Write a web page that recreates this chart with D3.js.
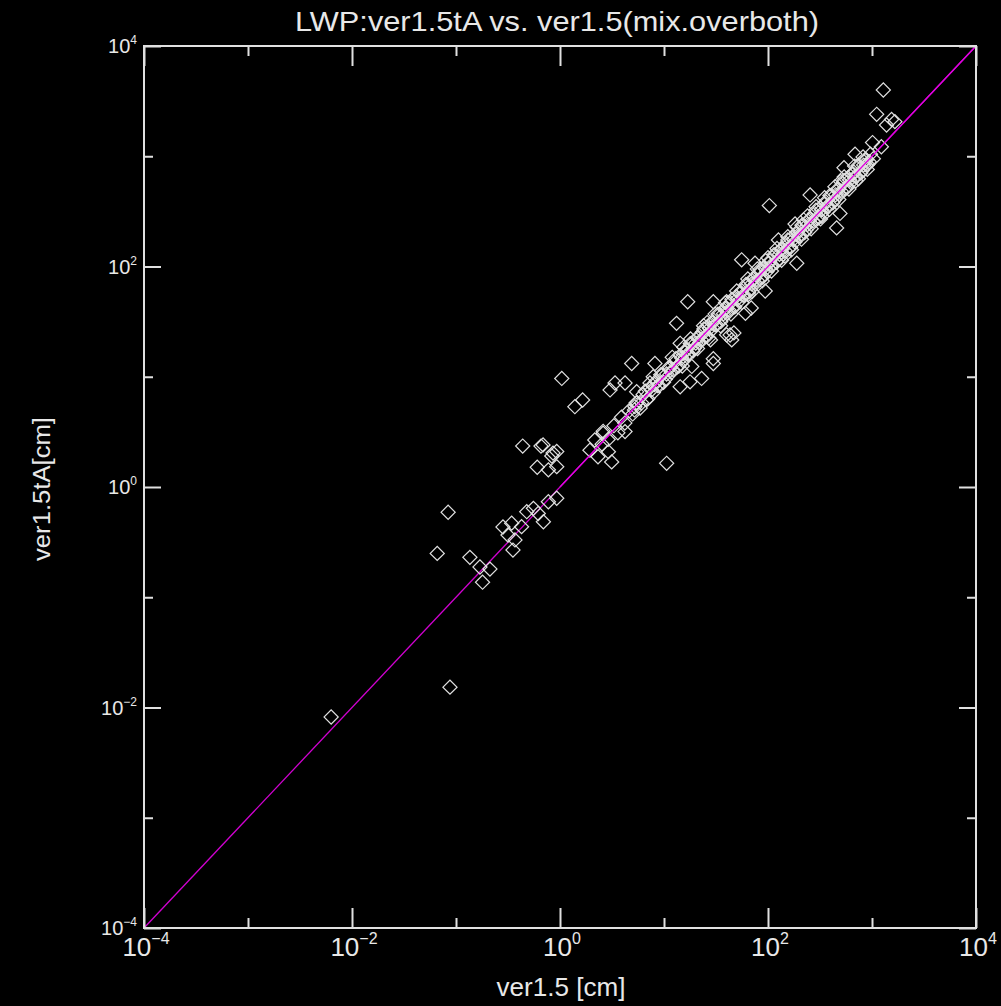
<!DOCTYPE html>
<html>
  <head>
    <meta charset="utf-8">
    <title>LWP scatter</title>
    <script type="text/javascript" src="https://cdn.jsdelivr.net/npm/d3@7"></script>
    <style type='text/css'>
      body { margin: 0; background: black; }
      text { fill: #e8e8e8; font-family: 'Liberation Sans', sans-serif; }
    </style>
  </head>
  <body>
    <script type="text/javascript">
      var w = 1001;
      var h = 1006;
      var plotLeft = 144, plotRight = 976, plotTop = 46, plotBottom = 928;

      var title = 'LWP:ver1.5tA vs. ver1.5(mix.overboth)';
      var xTitle = 'ver1.5 [cm]';
      var yTitle = 'ver1.5tA[cm]';
      var majorTicks = [1e-4, 1e-2, 1e0, 1e2, 1e4];
      var minorTicks = [1e-3, 1e-1, 1e1, 1e3];
      var tickExponents = ['-4', '-2', '0', '2', '4'];

      // scattered points away from the 1:1 band
      var xOut = [0.0063, 0.0875, 0.066, 0.084, 0.136, 0.17, 0.18, 0.212, 0.283, 0.343, 0.316, 0.353, 0.369,
                  0.427, 0.479, 0.555, 0.618, 0.692, 0.773, 0.93, 0.438, 0.656, 0.834, 0.93, 0.604, 0.773, 0.93,
                  1.04, 1.39, 1.65, 0.687, 0.857, 3.03, 3.38, 4.22, 4.89, 5.46, 5.25, 8.18, 7.88, 7.33, 13.2,
                  16.9, 14.3, 18.5, 29.8, 23, 17.8, 14.3, 10.6, 2.6, 2.16, 4.22, 29.8, 43.2, 44.8, 60.7, 28,
                  1285, 1109, 1542, 1380, 1660, 1012, 1230, 687, 538, 880, 254, 103, 492, 457, 182, 126, 55.8,
                  75, 189, 94, 29.8, 69, 40, 47, 2.92, 3.14, 2.32, 1.94, 2.54];
      var yOut = [0.0082, 0.0153, 0.25, 0.59, 0.23, 0.188, 0.137, 0.18, 0.434, 0.47, 0.367, 0.268, 0.331,
                  0.437, 0.597, 0.64, 0.575, 0.484, 0.735, 0.79, 2.35, 2.35, 1.91, 2.1, 1.51, 1.43, 1.53,
                  9.66, 5.35, 6.15, 2.41, 2.03, 7.59, 8.77, 8.77, 13.2, 7.31, 5.35, 13.2, 10, 8.77, 30.5,
                  47.9, 20.1, 12.4, 13.2, 9.66, 9.0, 8.1, 1.64, 3.07, 2.67, 3.18, 47.9, 23.9, 21.6, 37.6, 21.6,
                  3990, 2400, 2160, 1920, 2060, 1330, 1220, 1045, 787, 830, 446, 357, 303, 224, 243, 174, 115,
                  107, 107, 60, 14.6, 42, 24, 25, 2.09, 1.69, 1.88, 2.16, 2.44];

      // dense band along the 1:1 line
      var xBand = [2.6, 2.9, 3.3, 3.6, 3.9, 4.2, 4.6, 5.0, 5.2, 5.4, 5.9, 6.3, 6.8, 7.3, 7.9, 8.4, 9.0, 9.6,
                   10.3, 11, 11.8, 12.6, 13.4, 14.3, 15.2, 16.2, 17.3, 18.4, 19.6, 20.8, 22.1, 23.5, 25, 26.6,
                   28.3, 30.1, 32, 34, 36.2, 38.5, 41, 43.6, 46.4, 49.4, 52.5, 55.9, 59.5, 63.3, 67.3, 71.6,
                   76.2, 81, 86.2, 91.7, 97.6, 104, 110, 117, 125, 133, 141, 150, 160, 170, 181, 193, 205, 218,
                   232, 247, 263, 280, 298, 317, 337, 358, 381, 406, 432, 459, 489, 520, 553, 589, 626, 667,
                   710, 755, 804, 855, 910, 968, 1030,
                   12, 15, 18, 21, 24, 27, 31, 35, 39, 44, 50, 56, 64, 70, 79, 88, 100, 108, 122, 135, 155, 168,
                   190, 210, 240, 260, 290, 320, 350, 390, 440, 480, 540, 600, 680, 740, 820, 900, 15.5, 26,
                   40, 65, 95, 145, 220, 330, 500, 700];
      var yBand = [3.2, 2.7, 3.6, 3.1, 4.3, 3.8, 4.9, 4.6, 5.0, 5.8, 5.2, 6.9, 6.2, 7.9, 7.2, 9.1, 8.3, 10.4,
                   9.5, 12, 10.9, 13.5, 12.3, 15.6, 14.0, 17.5, 16.0, 19.8, 18.1, 22.6, 20.5, 25.4, 23.2, 28.7,
                   26.1, 32.5, 29.6, 36.8, 33.5, 41.6, 37.8, 47, 42.8, 53.4, 48.4, 60.3, 54.8, 68.4, 62, 77.3,
                   70.2, 87.5, 79.4, 99, 90, 112, 102, 127, 115, 143, 130, 162, 147, 184, 167, 208, 189, 235,
                   214, 266, 242, 302, 274, 342, 311, 387, 352, 438, 398, 496, 450, 562, 510, 636, 577, 720,
                   654, 815, 741, 923, 840, 1045, 950,
                   15, 12.5, 22, 18, 29, 22.5, 37, 29, 47, 37, 60, 47, 77, 59, 95, 74, 120, 91, 146, 114, 186, 142,
                   228, 177, 288, 220, 348, 270, 420, 330, 528, 405, 648, 505, 815, 625, 985, 760, 18.5, 31,
                   48, 56, 113, 125, 265, 285, 590, 600];

      // more band points (fills the solid white strip)
      var xBand2 = [5.5, 6.1, 6.6, 7.0, 7.6, 8.1, 8.7, 9.3, 9.9, 10.6, 11.4, 12.2, 13.0, 13.9, 14.8,
                    15.8, 16.8, 17.9, 19.0, 20.2, 21.5, 22.8, 24.2, 25.8, 27.4, 29.2, 31, 33, 35.1, 37.3,
                    39.7, 42.3, 45, 47.9, 51, 54.2, 57.7, 61.4, 65.3, 69.5, 74, 78.7, 83.8, 89.2, 94.9,
                    101, 107, 114, 121, 129, 137, 146, 155, 165, 176, 187, 199, 212, 225, 240,
                    255, 272, 289, 308, 327, 348, 371, 394, 420, 447, 475, 506, 538, 573, 610,
                    649, 690, 734, 781, 831, 884, 940];
      var yBand2 = [5.8, 5.8, 7.4, 6.3, 7.6, 8.5, 8.3, 10.4, 8.9, 10.6, 12.0, 11.6, 14.6, 12.5, 14.8,
                    16.6, 16.0, 20.0, 17.1, 20.2, 22.6, 21.7, 27.1, 23.2, 27.4, 30.7, 29.5, 37, 31.6, 37.3,
                    41.7, 40.2, 50.4, 43.1, 51, 56.9, 54.8, 68.8, 58.8, 69.5, 77.7, 74.8, 93.9, 80.3, 94.9,
                    106, 102, 128, 109, 129, 144, 139, 174, 149, 176, 196, 189, 237, 203, 240,
                    268, 258, 324, 277, 327, 365, 352, 441, 378, 447, 499, 481, 603, 516, 610,
                    681, 656, 822, 703, 831, 928, 893];

      var xAll = xOut.concat(xBand, xBand2);
      var yAll = yOut.concat(yBand, yBand2);
      var points = xAll.map(function(d, i) { return {x: d, y: yAll[i]}; });

      var svg = d3.select('body')
                  .append('svg')
                  .attr('width', w)
                  .attr('height', h)
                  .style('background', 'black');

      var x = d3.scaleLog().domain([1e-4, 1e4]).range([plotLeft, plotRight]);
      var y = d3.scaleLog().domain([1e-4, 1e4]).range([plotBottom, plotTop]);

      // 1:1 line
      svg.append('line')
        .attr('x1', x(1e-4)).attr('y1', y(1e-4))
        .attr('x2', x(1e4)).attr('y2', y(1e4))
        .attr('stroke', '#d000d0')
        .attr('stroke-width', 1.3);

      // diamonds
      var diamond = d3.symbol().type(d3.symbolSquare).size(100);
      svg.selectAll('path.pt')
        .data(points)
        .enter()
        .append('path')
        .attr('class', 'pt')
        .attr('d', diamond)
        .attr('transform', function(d) { return 'translate(' + x(d.x) + ',' + y(d.y) + ') rotate(45)'; })
        .attr('fill', 'none')
        .attr('stroke', '#e0e0e0')
        .attr('stroke-width', 1.2);

      // magenta line drawn again on top, as in the reference it shows through the band
      svg.append('line')
        .attr('x1', x(1)).attr('y1', y(1))
        .attr('x2', x(1e4)).attr('y2', y(1e4))
        .attr('stroke', '#e000e0')
        .attr('stroke-width', 1.3);

      // frame
      svg.append('rect')
        .attr('x', plotLeft).attr('y', plotTop)
        .attr('width', plotRight - plotLeft).attr('height', plotBottom - plotTop)
        .attr('fill', 'none')
        .attr('stroke', '#e0e0e0')
        .attr('stroke-width', 2);

      function drawTicks(g) {
        g.select('.domain').remove();
        g.selectAll('line').attr('stroke', '#e0e0e0').attr('stroke-width', 2);
        g.selectAll('text').remove();
      }

      // ticks on all four sides, pointing inward
      svg.append('g').attr('transform', 'translate(0,' + plotBottom + ')')
        .call(d3.axisBottom(x).tickValues(majorTicks).tickSize(-20)).call(drawTicks);
      svg.append('g').attr('transform', 'translate(0,' + plotBottom + ')')
        .call(d3.axisBottom(x).tickValues(minorTicks).tickSize(-10)).call(drawTicks);
      svg.append('g').attr('transform', 'translate(0,' + plotTop + ')')
        .call(d3.axisTop(x).tickValues(majorTicks).tickSize(-20)).call(drawTicks);
      svg.append('g').attr('transform', 'translate(0,' + plotTop + ')')
        .call(d3.axisTop(x).tickValues(minorTicks).tickSize(-10)).call(drawTicks);
      svg.append('g').attr('transform', 'translate(' + plotLeft + ',0)')
        .call(d3.axisLeft(y).tickValues(majorTicks).tickSize(-17)).call(drawTicks);
      svg.append('g').attr('transform', 'translate(' + plotLeft + ',0)')
        .call(d3.axisLeft(y).tickValues(minorTicks).tickSize(-9)).call(drawTicks);
      svg.append('g').attr('transform', 'translate(' + plotRight + ',0)')
        .call(d3.axisRight(y).tickValues(majorTicks).tickSize(-17)).call(drawTicks);
      svg.append('g').attr('transform', 'translate(' + plotRight + ',0)')
        .call(d3.axisRight(y).tickValues(minorTicks).tickSize(-9)).call(drawTicks);

      // bottom tick labels
      var bl = svg.selectAll('text.xl')
        .data(majorTicks)
        .enter()
        .append('text')
        .attr('class', 'xl')
        .attr('x', function(d) { return x(d) + 2; })
        .attr('y', 956)
        .attr('text-anchor', 'middle')
        .attr('font-size', '26px');
      bl.append('tspan').text('10');
      bl.append('tspan').attr('dy', -12).attr('font-size', '16px')
        .text(function(d, i) { return tickExponents[i].replace('-', '\u2212'); });

      // left tick labels
      var ll = svg.selectAll('text.yl')
        .data(majorTicks)
        .enter()
        .append('text')
        .attr('class', 'yl')
        .attr('x', 137)
        .attr('y', function(d) { return y(d) + 7; })
        .attr('text-anchor', 'end')
        .attr('font-size', '20px')
        .attr('font-family', 'DejaVu Sans');
      ll.append('tspan').text('10');
      ll.append('tspan').attr('dy', -9).attr('font-size', '12px')
        .text(function(d, i) { return tickExponents[i].replace('-', '\u2212'); });

      svg.append('text')
        .attr('x', 557)
        .attr('y', 31)
        .attr('text-anchor', 'middle')
        .attr('font-size', '28px')
        .attr('textLength', 524)
        .attr('lengthAdjust', 'spacingAndGlyphs')
        .text(title);

      svg.append('text')
        .attr('x', 561)
        .attr('y', 996)
        .attr('text-anchor', 'middle')
        .attr('font-size', '26px')
        .attr('textLength', 129)
        .attr('lengthAdjust', 'spacingAndGlyphs')
        .text(xTitle);

      svg.append('text')
        .attr('transform', 'translate(50,489) rotate(-90)')
        .attr('text-anchor', 'middle')
        .attr('font-size', '23px')
        .attr('textLength', 144)
        .attr('lengthAdjust', 'spacingAndGlyphs')
        .text(yTitle);
    </script>
  </body>
</html>
